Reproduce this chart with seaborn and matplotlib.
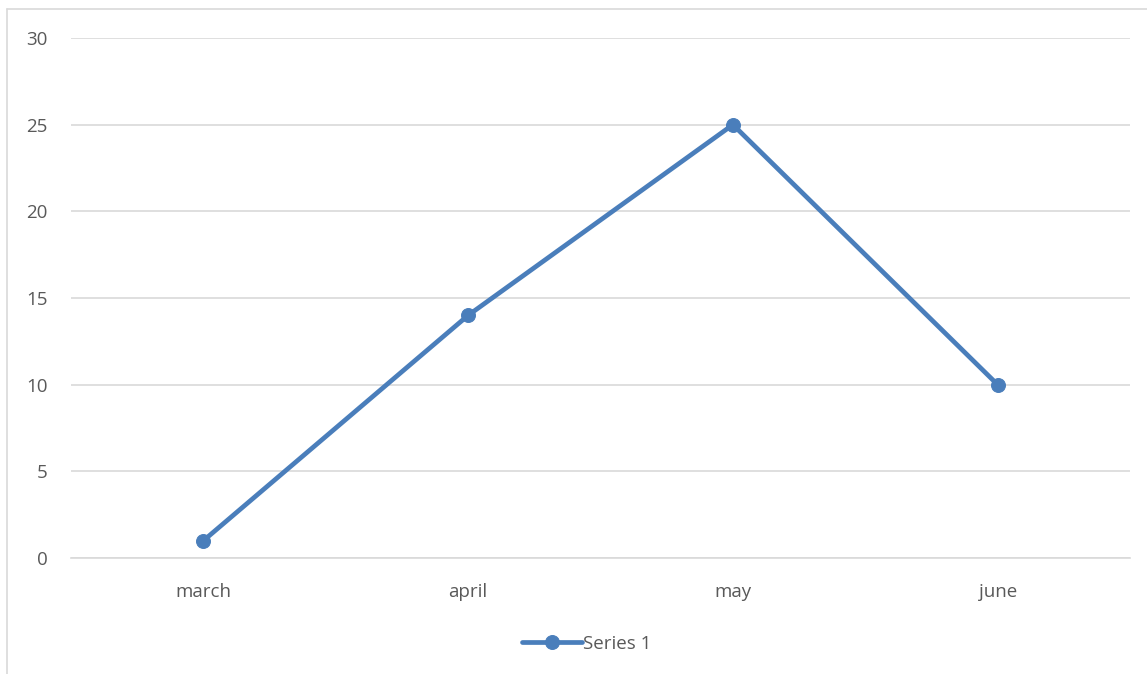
import matplotlib.pyplot as plt
from matplotlib.lines import Line2D
import seaborn as sns
import pandas as pd

# Dados do gráfico
meses = ['march', 'april', 'may', 'june']
serie_1 = [1, 14, 25, 10]
ticks_y = [0, 5, 10, 15, 20, 25, 30]

sns.set_style("white")
plt.rcParams['font.family'] = ['Open Sans', 'DejaVu Sans']

df = pd.DataFrame({'mes': meses, 'valor': serie_1})
cor = '#4A7EBB'
cinza = '#595959'

fig = plt.figure(figsize=(11.47, 6.74), dpi=100)
ax = fig.add_axes([0.0619, 0.1721, 0.9233, 0.7715])

sns.lineplot(data=df, x='mes', y='valor', ax=ax, color=cor, linewidth=3.4,
             marker='o', markersize=10, markeredgecolor=cor, sort=False,
             label='Series 1')

ax.set_xlim(-0.5, 3.5)
ax.set_ylim(0, 30)
ax.set_yticks(ticks_y)
ax.grid(axis='y', color='#D9D9D9', linewidth=1.2)
ax.set_axisbelow(True)
for s in ax.spines.values():
    s.set_visible(False)
ax.spines['bottom'].set_visible(True)
ax.spines['bottom'].set_color('#D9D9D9')
ax.spines['bottom'].set_linewidth(1.2)
ax.tick_params(axis='x', length=0, labelsize=13.5, labelcolor=cinza, pad=18)
ax.tick_params(axis='y', length=0, labelsize=13.5, labelcolor=cinza, pad=17)
ax.set_xlabel('')
ax.set_ylabel('')

ax.legend(loc='center', bbox_to_anchor=(0.487, -0.165), frameon=False,
          fontsize=13.5, labelcolor=cinza, handlelength=3.2, handletextpad=0.1)

# Borda do gráfico (estilo Excel)
fig.add_artist(Line2D([7.5 / 1147, 7.5 / 1147], [0, 1 - 9 / 674],
                      transform=fig.transFigure, color='#D9D9D9', linewidth=1.2))
fig.add_artist(Line2D([7.5 / 1147, 1], [1 - 9 / 674, 1 - 9 / 674],
                      transform=fig.transFigure, color='#D9D9D9', linewidth=1.2))

plt.savefig('out.png', dpi=100)
plt.close()
